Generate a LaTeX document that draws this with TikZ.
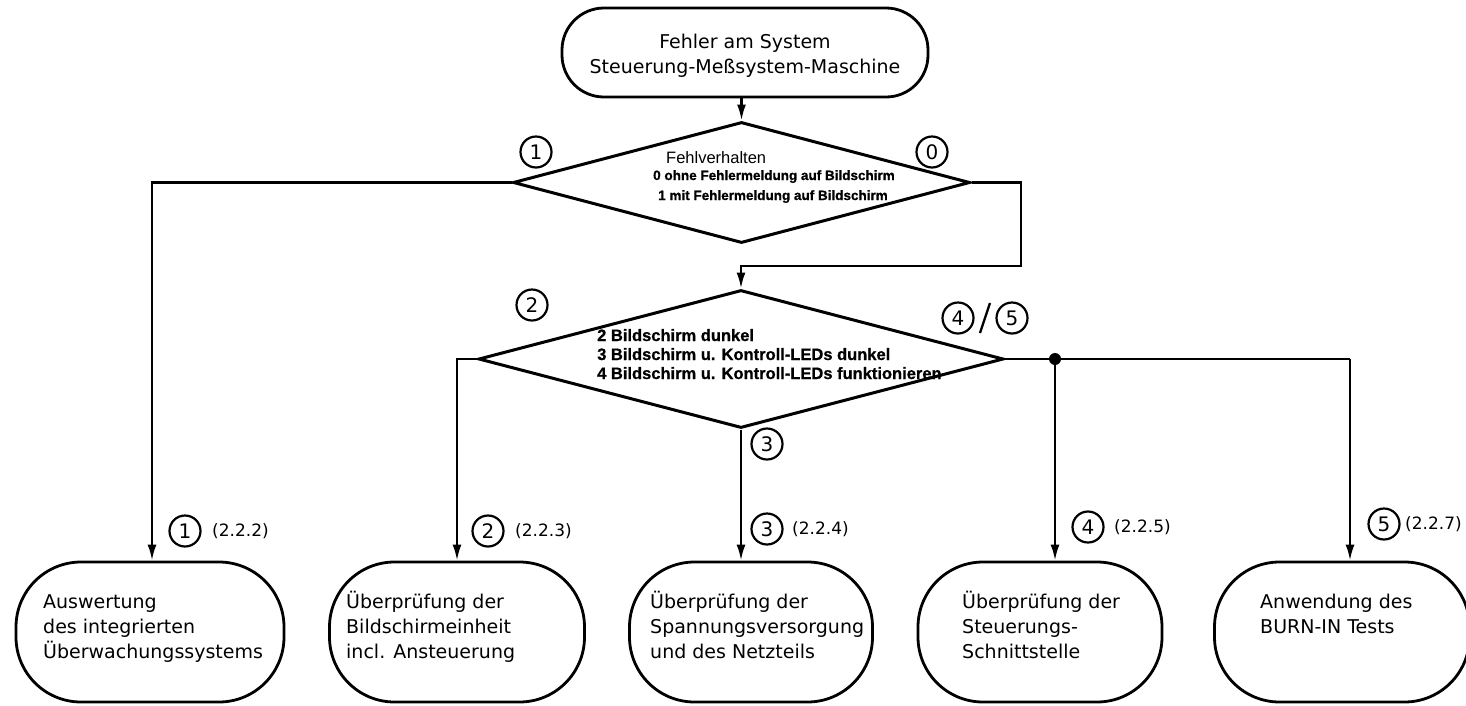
\documentclass[tikz,border=0pt]{standalone}
\usepackage{fontspec}
\setmainfont{DejaVu Sans}
\newfontfamily\dfont{Liberation Sans}[BoldFeatures={FakeBold=0.8}]
\usetikzlibrary{shapes.geometric,arrows.meta,calc}

\begin{document}
\begin{tikzpicture}[x=1pt,y=-1pt,
  term/.style={draw, line width=2.8pt, rounded corners=42pt,
    minimum width=366pt, minimum height=89pt, inner sep=0pt},
  proc/.style={draw, line width=2.8pt, rounded corners=65pt,
    minimum width=#1, minimum height=140pt, inner sep=0pt},
  decide/.style={draw, diamond, line width=3pt, inner sep=0pt},
  conn/.style={line width=2.3pt},
  arr/.style={conn, -{Latex[length=16pt,width=9pt]}},
  num/.style={draw, circle, line width=2.2pt, minimum size=31pt, inner sep=0pt,
    font=\fontsize{20}{20}\selectfont},
  secref/.style={anchor=west, inner sep=0pt, font=\fontsize{17}{17}\selectfont},
  body/.style={anchor=north west, align=left, inner sep=0pt,
    font=\fontsize{19}{25}\selectfont},
  dhead/.style={anchor=base west, inner sep=0pt, font=\dfont\fontsize{16.5}{16.5}\selectfont},
  dsmall/.style={anchor=base west, inner sep=0pt, font=\dfont\bfseries\fontsize{13.5}{13.5}\selectfont},
  dlarge/.style={anchor=base west, inner sep=0pt, font=\dfont\bfseries\fontsize{16.5}{16.5}\selectfont},
]
\clip (0,0) rectangle (1466,705);
\fill[white] (0,0) rectangle (1466,705);

% start terminal
\node[term] (start) at (745,52.5) {};
\node[inner sep=0pt, align=center, font=\fontsize{19}{25}\selectfont] (starttext) at (745,56)
  {Fehler am System\\Steuerung-Meßsystem-Maschine};

% first decision: error message on screen or not
\node[decide, minimum width=457pt, minimum height=121pt] (d1) at (741.5,182.5) {};
\node[dhead] (d1a) at (666,163) {Fehlverhalten};
\node[dsmall] (d1b) at (653,180) {0 ohne Fehlermeldung auf Bildschirm};
\node[dsmall] (d1c) at (658,200) {1 mit Fehlermeldung auf Bildschirm};

% second decision: screen and control LEDs
\node[decide, minimum width=525pt, minimum height=138pt] (d2) at (741,359) {};
\node[dlarge] (d2a) at (597,341) {2 Bildschirm dunkel};
\node[dlarge] (d2b) at (597,360) {3 Bildschirm u. Kontroll-LEDs dunkel};
\node[dlarge] (d2c) at (597,379) {4 Bildschirm u. Kontroll-LEDs funktionieren};

% procedures
\node[proc=268pt] (b1) at (150,632) {};
\node[proc=255pt] (b2) at (457,632) {};
\node[proc=243pt] (b3) at (751,632) {};
\node[proc=244pt] (b4) at (1040,632) {};
\node[proc=255pt] (b5) at (1342,632) {};

\node[body] (t1) at (43,591) {\strut Auswertung\\des integrierten\\Überwachungssystems};
\node[body] (t2) at (346,591) {\strut Überprüfung der\\Bildschirmeinheit\\incl. Ansteuerung};
\node[body] (t3) at (650,591) {\strut Überprüfung der\\Spannungsversorgung\\und des Netzteils};
\node[body] (t4) at (962,591) {\strut Überprüfung der\\Steuerungs-\\Schnittstelle};
\node[body] (t5) at (1260,591) {\strut Anwendung des\\BURN-IN Tests};

% connectors
\draw[arr] (d1.north |- start.south) -- (d1.north);

\coordinate (l1) at (152,182.5);
\draw[arr] (d1.west) -- (l1) -- (l1 |- b1.north);

\coordinate (r1) at (1021,182.5);
\coordinate (r2) at (1021,266);
\draw[arr] (d1.east) -- (r1) -- (r2) -- (d2.north |- r2) -- (d2.north);

\coordinate (l2) at (457,359);
\draw[arr] (d2.west) -- (l2) -- (l2 |- b2.north);

\draw[arr] (d2.south) -- (d2.south |- b3.north);

\coordinate (fork) at (1055,359);
\coordinate (r5) at (1350,359);
\draw[conn] (d2.east) -- (r5);
\draw[arr] (r5) -- (r5 |- b5.north);
\draw[arr] (fork) -- (fork |- b4.north);
\fill (fork) circle (6pt);

% branch markers at the decisions
\node[num] (m1) at (536,152) {1};
\node[num] (m0) at (932,152) {0};
\node[num] (m2) at (532,305) {2};
\node[num] (m4) at (958,318) {4};
\node[num] (m5) at (1012,318) {5};
\coordinate (sl1) at (980,333);
\coordinate (sl2) at (990,303);
\draw[conn] (sl1) -- (sl2);
\node[num] (m3) at (767,444) {3};

% markers and section references at the procedures
\node[num] (p1) at (185,531) {1};
\node[secref] (s1) at (212,531) {(2.2.2)};
\node[num] (p2) at (488,531) {2};
\node[secref] (s2) at (515,531) {(2.2.3)};
\node[num] (p3) at (767,529) {3};
\node[secref] (s3) at (792,529) {(2.2.4)};
\node[num] (p4) at (1088,527) {4};
\node[secref] (s4) at (1114,527) {(2.2.5)};
\node[num] (p5) at (1384,524) {5};
\node[secref] (s5) at (1405,524) {(2.2.7)};
\end{tikzpicture}
\end{document}
